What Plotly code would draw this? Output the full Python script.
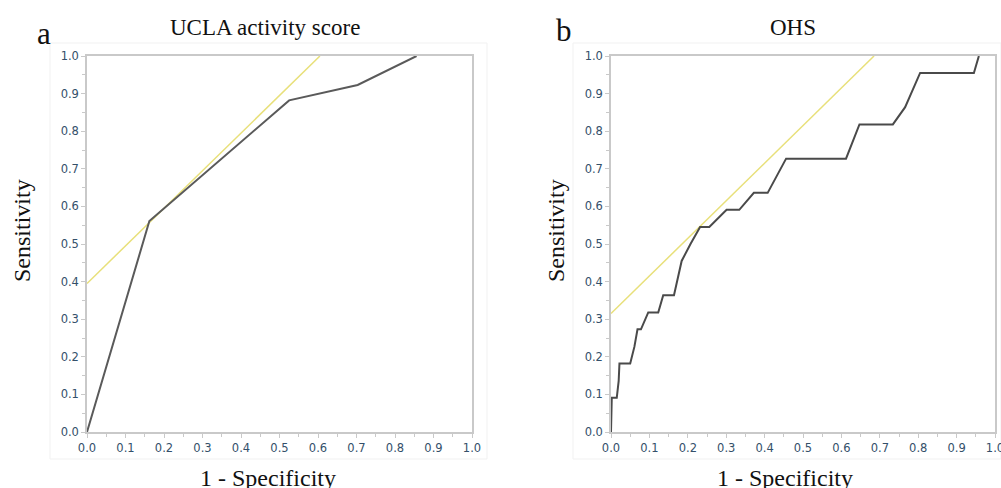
import plotly.graph_objects as go

# ---- data ----
ucla_fpr = [0.0, 0.162, 0.525, 0.703, 0.856]
ucla_tpr = [0.0, 0.561, 0.882, 0.923, 1.0]
ucla_tangent_x = [0.0, 0.605]
ucla_tangent_y = [0.395, 1.0]

ohs_fpr = [0.0, 0.002, 0.015, 0.020, 0.022, 0.050, 0.061, 0.069, 0.078, 0.097, 0.123,
           0.136, 0.164, 0.184, 0.207, 0.232, 0.256, 0.301, 0.334, 0.372, 0.408,
           0.456, 0.612, 0.647, 0.734, 0.766, 0.805, 0.945, 0.958]
ohs_tpr = [0.0, 0.091, 0.091, 0.136, 0.182, 0.182, 0.227, 0.273, 0.273, 0.318, 0.318,
           0.364, 0.364, 0.455, 0.500, 0.545, 0.545, 0.591, 0.591, 0.636, 0.636,
           0.727, 0.727, 0.818, 0.818, 0.864, 0.955, 0.955, 1.0]
ohs_tangent_x = [0.0, 0.685]
ohs_tangent_y = [0.315, 1.0]

tick_vals = [0.0, 0.1, 0.2, 0.3, 0.4, 0.5, 0.6, 0.7, 0.8, 0.9, 1.0]
tick_text = ["0.0", "0.1", "0.2", "0.3", "0.4", "0.5", "0.6", "0.7", "0.8", "0.9", "1.0"]

panel_titles = ["UCLA activity score", "OHS"]
panel_letters = ["a", "b"]
x_title = "1 - Specificity"
y_title = "Sensitivity"

W, H = 1001, 488
ROC_COLOR = "#5a5a5a"
TAN_COLOR = "#e8e07a"
FRAME = "#c9c9c9"
TICKFONT = dict(family="DejaVu Sans", size=11.5, color="#34506a")
SERIF = "Liberation Serif"

fig = go.Figure()

fig.add_trace(go.Scatter(x=ucla_tangent_x, y=ucla_tangent_y, mode="lines",
                         line=dict(color=TAN_COLOR, width=1.5), xaxis="x", yaxis="y",
                         showlegend=False, hoverinfo="skip"))
fig.add_trace(go.Scatter(x=ucla_fpr, y=ucla_tpr, mode="lines",
                         line=dict(color=ROC_COLOR, width=2), xaxis="x", yaxis="y",
                         showlegend=False))
fig.add_trace(go.Scatter(x=ohs_tangent_x, y=ohs_tangent_y, mode="lines",
                         line=dict(color=TAN_COLOR, width=1.5), xaxis="x2", yaxis="y2",
                         showlegend=False, hoverinfo="skip"))
fig.add_trace(go.Scatter(x=ohs_fpr, y=ohs_tpr, mode="lines",
                         line=dict(color="#4a4a4a", width=2), xaxis="x2", yaxis="y2",
                         showlegend=False))

def px_x(p):
    return p / W

def px_y(p):
    return 1 - p / H

y_dom = [px_y(432), px_y(56)]

def axis(domain, anchor):
    return dict(domain=domain, anchor=anchor, range=[0, 1], showgrid=False, zeroline=False,
                automargin=False, ticklabeloverflow="allow",
                showline=True, linecolor=FRAME, linewidth=1.5, mirror=True,
                ticks="outside", ticklen=4, tickcolor=FRAME, tickwidth=1,
                tickvals=tick_vals, ticktext=tick_text, tickfont=TICKFONT,
                minor=dict(dtick=0.05, ticks="outside", ticklen=3, tickcolor=FRAME, tick0=0),
                fixedrange=True)

fig.update_layout(
    width=W, height=H,
    margin=dict(l=0, r=0, t=0, b=0, autoexpand=False),
    paper_bgcolor="white", plot_bgcolor="white",
    xaxis=axis([px_x(87), px_x(472)], "y"),
    yaxis=axis(y_dom, "x"),
    xaxis2=axis([px_x(611), px_x(995)], "y2"),
    yaxis2=axis(y_dom, "x2"),
)

# faint outer panel frames
for x0, x1 in [(50, 487), (573, 1001)]:
    fig.add_shape(type="rect", xref="paper", yref="paper",
                  x0=px_x(x0), x1=px_x(x1), y0=px_y(459), y1=px_y(43),
                  line=dict(color="#f1f1f1", width=1), layer="below")

ann = []
ann.append(dict(text=panel_titles[0], x=px_x(265), y=px_y(28), font=dict(family=SERIF, size=23, color="#111")))
ann.append(dict(text=panel_titles[1], x=px_x(793), y=px_y(28), font=dict(family=SERIF, size=23, color="#111")))
ann.append(dict(text=panel_letters[0], x=px_x(44), y=px_y(33), font=dict(family=SERIF, size=31, color="#111")))
ann.append(dict(text=panel_letters[1], x=px_x(564), y=px_y(31), font=dict(family=SERIF, size=31, color="#111")))
ann.append(dict(text=x_title, x=px_x(268), y=px_y(478), font=dict(family=SERIF, size=24, color="#111")))
ann.append(dict(text=x_title, x=px_x(785), y=px_y(478), font=dict(family=SERIF, size=24, color="#111")))
ann.append(dict(text=y_title, x=px_x(22), y=px_y(231), textangle=-90, font=dict(family=SERIF, size=24, color="#111")))
ann.append(dict(text=y_title, x=px_x(556), y=px_y(231), textangle=-90, font=dict(family=SERIF, size=24, color="#111")))
for a in ann:
    a.update(xref="paper", yref="paper", showarrow=False, xanchor="center", yanchor="middle")
fig.update_layout(annotations=ann)

fig.write_html("out.html", config={"displayModeBar": False},
               post_script="document.body.style.margin='0';document.body.style.overflow='hidden';")
